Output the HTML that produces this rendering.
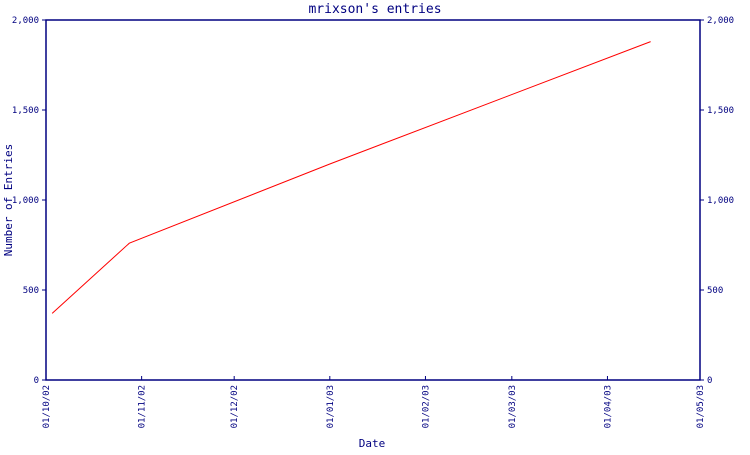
<!DOCTYPE html>
<html><head><meta charset="utf-8"><style>
body{margin:0;background:#fff;}
svg text{font-family:"DejaVu Sans Mono","Liberation Mono",monospace;fill:#000080;}
</style></head><body>
<svg width="750" height="450" viewBox="0 0 750 450">
<script>
const tickLabels=["01/10/02","01/11/02","01/12/02","01/01/03","01/02/03","01/03/03","01/04/03","01/05/03"];
const tickDays=[0,31,61,92,123,151,182,212];
const yTicks=[0,500,1000,1500,2000];
const yTickLabels=["0","500","1,000","1,500","2,000"];
const pointDays=[2,27,92,196];
const pointValues=[370,760,1200,1880];
</script>
<g id="g"></g>
<script>
(function(){
const NS="http://www.w3.org/2000/svg";
const g=document.getElementById('g');
const L=46,R=700,T=20,B=380;
const x=d=>L+d/212*(R-L);
const y=v=>B-v/2000*(B-T);
function mk(t,a){const e=document.createElementNS(NS,t);for(const k in a)e.setAttribute(k,a[k]);g.appendChild(e);return e;}
let e=mk('text',{x:375,y:13,'text-anchor':'middle','font-size':13});e.textContent="mrixson's entries";


e=mk('rect',{x:L,y:T,width:R-L,height:B-T,fill:'none',stroke:'#000080','stroke-width':1.5});


yTicks.forEach((v,i)=>{
  let t=mk('line',{x1:L-4,x2:L,y1:y(v),y2:y(v),stroke:'#000080'});
  
  
  t=mk('line',{x1:R,x2:R+4,y1:y(v),y2:y(v),stroke:'#000080'});
  
  
  let l=mk('text',{x:L-7,y:y(v)+3,'text-anchor':'end','font-size':9});l.textContent=yTickLabels[i];
  
  
  l=mk('text',{x:R+7,y:y(v)+3,'font-size':9});l.textContent=yTickLabels[i];
  
  
});
tickDays.forEach((d,i)=>{
  let t=mk('line',{x1:x(d),x2:x(d),y1:B-4,y2:B,stroke:'#000080'});
  
  
  let l=mk('text',{x:0,y:0,'text-anchor':'end','font-size':9,transform:`translate(${x(d)+3},${B+5}) rotate(-90)`});
  l.textContent=tickLabels[i];
  
  
});
e=mk('polyline',{points:pointDays.map((d,i)=>x(d)+','+y(pointValues[i])).join(' '),fill:'none',stroke:'#ff0000','stroke-width':1});


e=mk('text',{x:372,y:447,'text-anchor':'middle','font-size':11});e.textContent="Date";


e=mk('text',{x:0,y:0,'text-anchor':'middle','font-size':11,transform:'translate(12,200) rotate(-90)'});e.textContent="Number of Entries";


})();
</script>
</svg>
</body></html>
